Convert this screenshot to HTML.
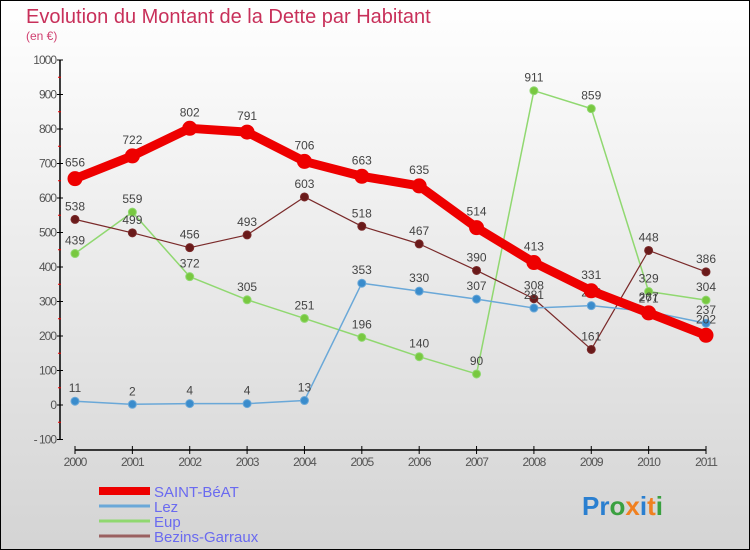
<!DOCTYPE html>
<html><head><meta charset="utf-8"><style>
html,body{margin:0;padding:0;}
body{width:750px;height:550px;overflow:hidden;font-family:"Liberation Sans",sans-serif;}
#frame{position:absolute;left:0;top:0;width:748px;height:548px;border:1px solid #000;background:linear-gradient(#ffffff,#d4d4d4);}
</style></head><body>
<div id="frame"></div>
<svg id="chart" width="750" height="550" style="position:absolute;left:0;top:0">
<text x="26" y="23" font-size="20" fill="#c8305a">Evolution du Montant de la Dette par Habitant</text>
<text x="26" y="40" font-size="12" fill="#d04070">(en €)</text>
<g id="axes"></g>
<g id="series"></g>
<g id="legend"></g>
<text x="582" y="515" font-size="26" font-weight="bold"><tspan fill="#2a7fd0">Pr</tspan><tspan fill="#3aa040">o</tspan><tspan fill="#f08020">x</tspan><tspan fill="#2a7fd0">i</tspan><tspan fill="#f08020">t</tspan><tspan fill="#3aa040">i</tspan></text>
</svg>
<script>
const years=[2000,2001,2002,2003,2004,2005,2006,2007,2008,2009,2010,2011];
const yTicks=[-100,0,100,200,300,400,500,600,700,800,900,1000];
const saint=[656,722,802,791,706,663,635,514,413,331,267,202];
const lez=[11,2,4,4,13,353,330,307,281,288,271,237];
const eup=[439,559,372,305,251,196,140,90,911,859,329,304];
const bezins=[538,499,456,493,603,518,467,390,308,161,448,386];
const NS='http://www.w3.org/2000/svg';
const xs=i=>75+i*(706-75)/11;
const ys=v=>405-v*0.345;
function mk(tag,attrs,parent){const e=document.createElementNS(NS,tag);for(const k in attrs)e.setAttribute(k,attrs[k]);parent.appendChild(e);return e;}
const ax=document.getElementById('axes');
let e=mk('line',{x1:60,y1:ys(1000),x2:60,y2:ys(-100),stroke:'#000','stroke-width':1.5},ax);


e=mk('line',{x1:75,y1:450,x2:706,y2:450,stroke:'#000','stroke-width':1.5},ax);


yTicks.forEach(v=>{
  mk('line',{x1:57,y1:ys(v),x2:63,y2:ys(v),stroke:'#000'},ax);
  if(v<1000) mk('line',{x1:58,y1:ys(v+50),x2:61,y2:ys(v+50),stroke:'#e00'},ax);
  const t=mk('text',{x:56,y:ys(v)+4,'font-size':12,fill:'#555','text-anchor':'end','letter-spacing':'-1'},ax);
  t.textContent=v===-100?'- 100':v;
  
  
});
years.forEach((y,i)=>{
  mk('line',{x1:xs(i),y1:446,x2:xs(i),y2:454,stroke:'#000'},ax);
  const t=mk('text',{x:xs(i),y:466,'font-size':12,fill:'#555','text-anchor':'middle','letter-spacing':'-1'},ax);
  t.textContent=y;
  
  
});
const sg=document.getElementById('series');
function draw(vals,color,w,r,name,ptFill){
  const g=mk('g',{},sg);
  
  
  mk('polyline',{points:vals.map((v,i)=>xs(i)+','+ys(v)).join(' '),fill:'none',stroke:color,'stroke-width':w,'stroke-linejoin':'round'},g);
  vals.forEach((v,i)=>{
    const c=mk('circle',{cx:xs(i),cy:ys(v),r:r,fill:ptFill,stroke:color,'stroke-width':1},g);
    
    
    const t=mk('text',{x:xs(i),y:ys(v)-(r+5),'font-size':12,fill:'#444','text-anchor':'middle'},g);
    t.textContent=v;
    
    
  });
}
draw(eup,'#90d870',1.5,4,'eup','#78c840');
draw(bezins,'#7a2a2a',1.2,4,'bezins-garraux','#6a1a1a');
draw(lez,'#6aa8d8',1.5,4,'lez','#3a8ccc');
draw(saint,'#ee0000',9,7,'saint-beat','#ee0000');
const lg=document.getElementById('legend');
const items=[['SAINT-BéAT','#ee0000',8],['Lez','#6aa8d8',3],['Eup','#90d870',3],['Bezins-Garraux','#9a6060',3]];
items.forEach((it,i)=>{
  const y=491+i*15;
  mk('line',{x1:99,y1:y,x2:150,y2:y,stroke:it[1],'stroke-width':it[2]},lg);
  const t=mk('text',{x:154,y:y+6,'font-size':15,fill:'#6a6af0'},lg);
  t.textContent=it[0];
  
  
});
</script>
</body></html>
